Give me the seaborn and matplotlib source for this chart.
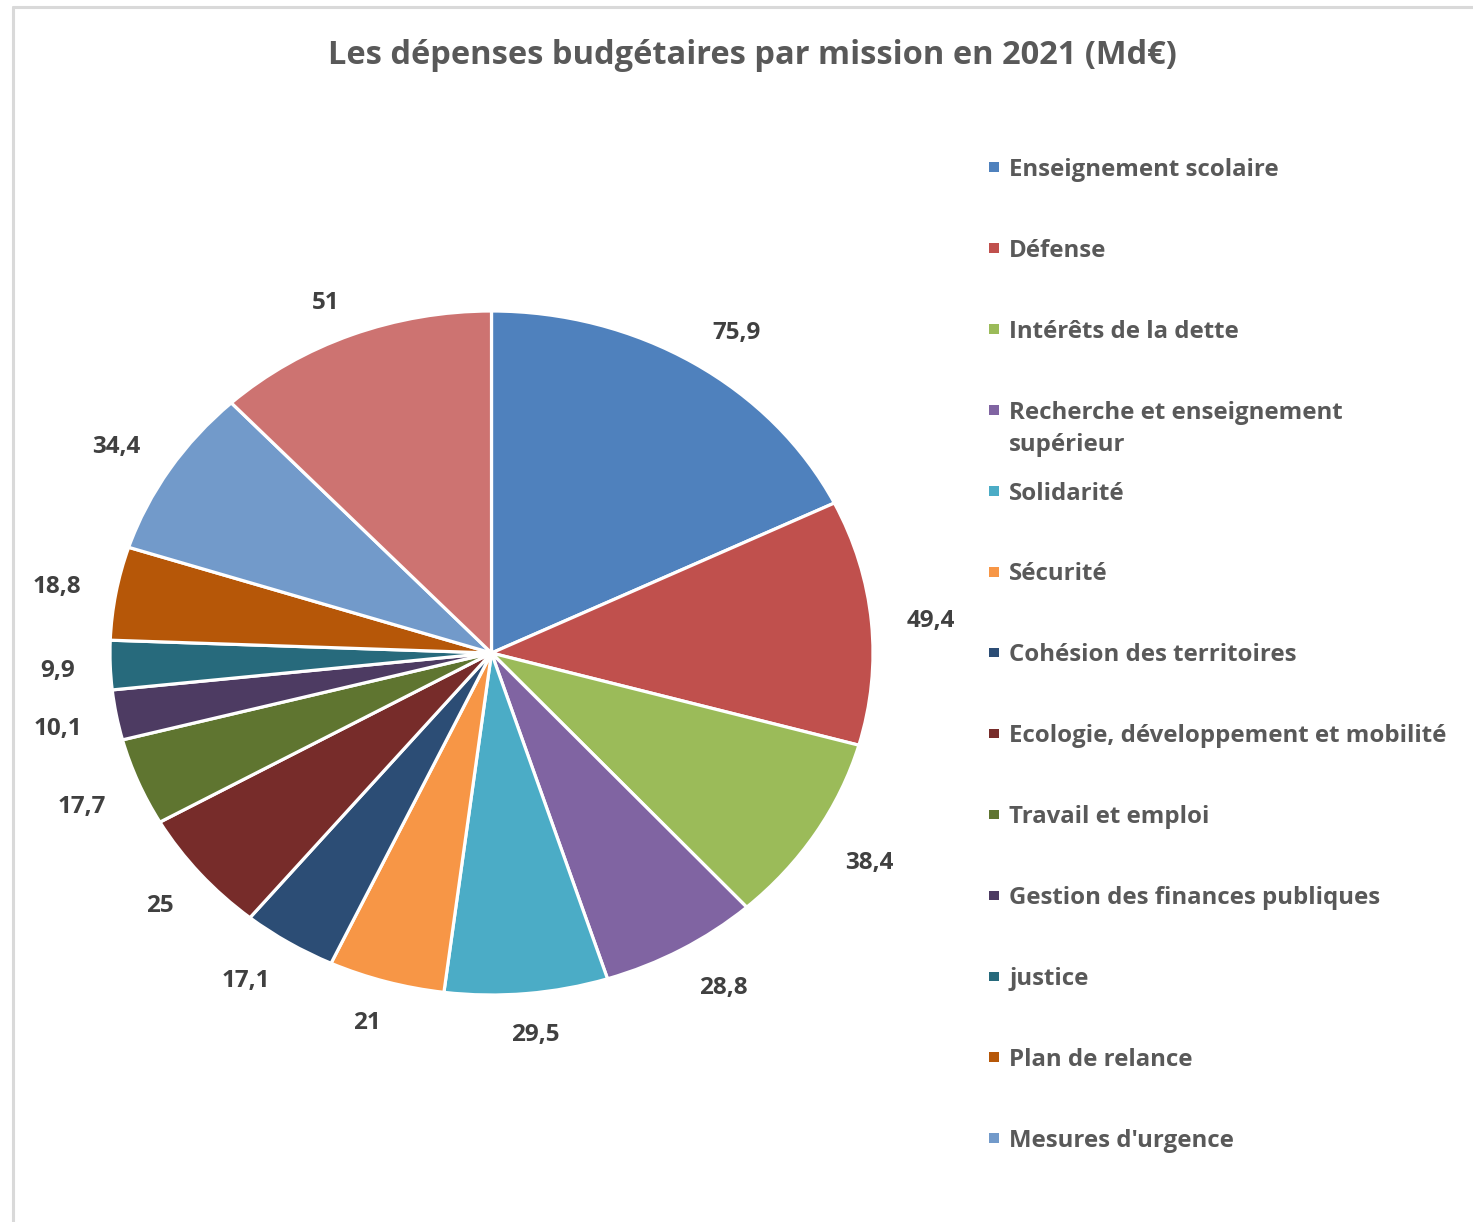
import numpy as np
import seaborn as sns
import matplotlib.pyplot as plt
from matplotlib.lines import Line2D
from matplotlib.patches import Rectangle

missions = [
    "Enseignement scolaire",
    "Défense",
    "Intérêts de la dette",
    "Recherche et enseignement\nsupérieur",
    "Solidarité",
    "Sécurité",
    "Cohésion des territoires",
    "Ecologie, développement et mobilité",
    "Travail et emploi",
    "Gestion des finances publiques",
    "justice",
    "Plan de relance",
    "Mesures d'urgence",
    "Autres",
]
depenses = [75.9, 49.4, 38.4, 28.8, 29.5, 21, 17.1, 25, 17.7, 10.1, 9.9, 18.8, 34.4, 51]
couleurs = ["#4F81BD", "#C0504D", "#9BBB59", "#8064A2", "#4BACC6", "#F79646", "#2C4D75",
            "#772C2A", "#5F7530", "#4D3B62", "#276A7C", "#B65708", "#729ACA", "#CD7371"]
n_legende = 13  # la derniere categorie n'apparait pas dans la legende

sns.set_theme(style="white")
plt.rcParams['font.family'] = ['Open Sans', 'DejaVu Sans']

W, H = 1473, 1222
fig = plt.figure(figsize=(W / 100, H / 100), dpi=100)
fig.patch.set_facecolor("white")

# camembert (legerement etire a l'horizontale comme l'original)
ax = fig.add_axes([110 / W, (H - 995) / H, 763 / W, 684 / H])
labels = [f"{v:g}".replace(".", ",") for v in depenses]
wedges, texts = ax.pie(
    depenses,
    colors=sns.color_palette(couleurs),
    labels=labels,
    startangle=90,
    counterclock=False,
    labeldistance=1.0,
    wedgeprops=dict(edgecolor="white", linewidth=2.3),
    textprops=dict(fontsize=17.5, fontweight="bold", color="#404040"),
)
ax.set_aspect("auto")
ax.set_xlim(-1, 1)
ax.set_ylim(-1, 1)

# etiquettes "bord exterieur" a la maniere d'Excel
fig.canvas.draw()
renderer = fig.canvas.get_renderer()
gap, k = 26, 2.5
for w, t in zip(wedges, texts):
    ang = np.deg2rad((w.theta1 + w.theta2) / 2)
    c, s = np.cos(ang), np.sin(ang)
    ex, ey = ax.transData.transform((c, s))
    bb = t.get_window_extent(renderer)
    hw, hh = bb.width / 2, bb.height / 2
    px = ex + 1.35 * gap * c + hw * np.clip(c * k, -1, 1)
    py = ey + gap * s + hh * np.clip(s * k, -1, 1) - 4
    t.set_position(ax.transData.inverted().transform((px, py)))
    t.set_ha("center")
    t.set_va("center")
    t.set_clip_on(False)

fig.text(752 / W, 1 - 55 / H, "Les dépenses budgétaires par mission en 2021 (Md€)",
         ha="center", va="center", fontsize=23.5, fontweight="bold", color="#595959")

# legende
y0, pas = 167, 80.9
for i in range(n_legende):
    y = y0 + i * pas
    fig.add_artist(Rectangle((989 / W, 1 - (y + 5) / H), 9.5 / W, 9.5 / H,
                             facecolor=couleurs[i], edgecolor="none", transform=fig.transFigure))
    fig.text(1009 / W, 1 - (y - 9) / H, missions[i], ha="left", va="top",
             fontsize=17.3, fontweight="bold", color="#595959", linespacing=1.45)

# cadre
fig.add_artist(Line2D([12.5 / W, 12.5 / W], [0, 1 - 7 / H], color="#D9D9D9", lw=2.2,
                      transform=fig.transFigure))
fig.add_artist(Line2D([12.5 / W, 1], [1 - 7 / H, 1 - 7 / H], color="#D9D9D9", lw=2.2,
                      transform=fig.transFigure))

fig.savefig("out.png", dpi=100, facecolor="white")
